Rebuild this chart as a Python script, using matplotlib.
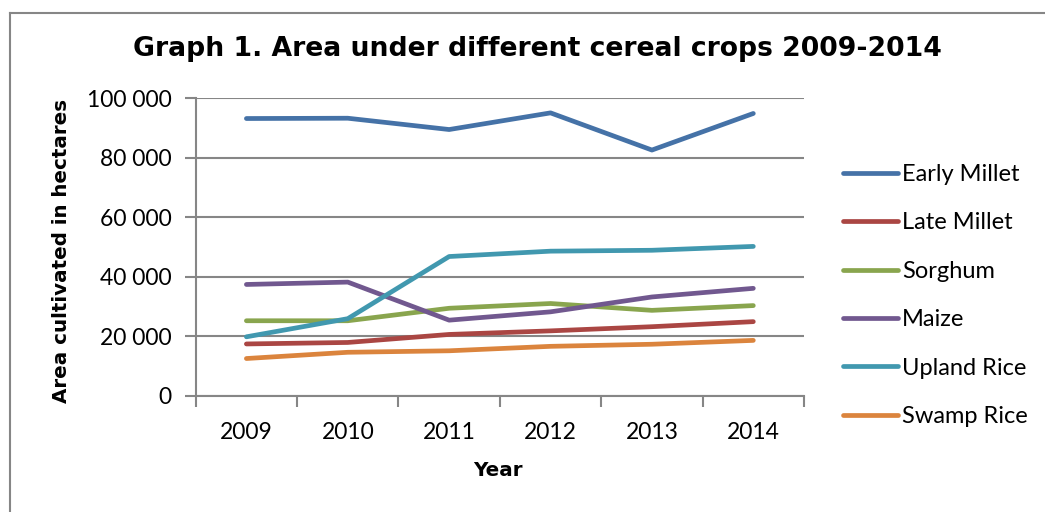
import numpy as np
import matplotlib
matplotlib.use('Agg')
import matplotlib.pyplot as plt
from matplotlib.lines import Line2D
from matplotlib.ticker import FuncFormatter

years = ['2009', '2010', '2011', '2012', '2013', '2014']
early_millet = [93200, 93300, 89500, 95100, 82600, 94900]
late_millet = [17400, 17900, 20600, 21800, 23200, 24900]
sorghum = [25200, 25200, 29400, 31000, 28700, 30300]
maize = [37400, 38200, 25400, 28200, 33200, 36100]
upland_rice = [19800, 25900, 46800, 48600, 48900, 50200]
swamp_rice = [12500, 14600, 15100, 16600, 17300, 18600]

series = [
    ('Early Millet', early_millet, '#4572A7'),
    ('Late Millet', late_millet, '#AA4643'),
    ('Sorghum', sorghum, '#89A54E'),
    ('Maize', maize, '#71588F'),
    ('Upland Rice', upland_rice, '#4198AF'),
    ('Swamp Rice', swamp_rice, '#DB843D'),
]

W, H = 1045, 512
fig = plt.figure(figsize=(W / 100, H / 100), dpi=100)
ax = fig.add_axes([195.7 / W, 1 - 395.7 / H, (804 - 195.7) / W, (395.7 - 98.3) / H])

grey = '#868686'
lab_font = 'Lato'

x = np.arange(len(years))
for name, vals, col in series:
    ax.plot(x, vals, color=col, lw=3.4, label=name, solid_capstyle='round')

ax.set_xlim(-0.5, len(years) - 0.5)
ax.set_ylim(0, 100000)
ax.set_yticks(np.arange(0, 100001, 20000))
ax.yaxis.set_major_formatter(FuncFormatter(lambda v, p: f'{int(v):,}'.replace(',', ' ')))
ax.grid(axis='y', color=grey, lw=1.5)
ax.set_axisbelow(True)

# category ticks at bin edges, labels centred
ax.set_xticks(np.arange(-0.5, len(years)), labels=[''] * (len(years) + 1))
ax.set_xticks(x, labels=years, minor=True)
ax.tick_params(axis='x', which='major', length=8, width=1.5, color=grey, direction='out')
ax.tick_params(axis='x', which='minor', length=0, pad=19, labelsize=16.5)
ax.tick_params(axis='y', length=8, width=1.5, color=grey, pad=9.5, labelsize=16.5)
for lbl in ax.get_xticklabels(minor=True) + ax.get_yticklabels():
    lbl.set_fontfamily(lab_font)

for s in ['top', 'right']:
    ax.spines[s].set_visible(False)
for s in ['left', 'bottom']:
    ax.spines[s].set_color(grey)
    ax.spines[s].set_linewidth(1.5)

fig.text(537 / W, 1 - 49 / H, 'Graph 1. Area under different cereal crops 2009-2014',
         ha='center', va='center', fontsize=19.2, fontweight='bold', family='DejaVu Sans')
fig.text(62 / W, 1 - 251 / H, 'Area cultivated in hectares', rotation=90,
         ha='center', va='center', fontsize=14.3, fontweight='bold', family='DejaVu Sans')
fig.text(498 / W, 1 - 470 / H, 'Year', ha='center', va='center',
         fontsize=14.3, fontweight='bold', family='DejaVu Sans')

leg = fig.legend(loc='upper left', bbox_to_anchor=(843 / W, 1 - 164 / H), frameon=False,
                 prop={'family': lab_font, 'size': 17}, handlelength=2.33,
                 handletextpad=0.17, labelspacing=1.16, borderpad=0, borderaxespad=0)

# outer chart frame
fig.add_artist(Line2D([10 / W, 1], [1 - 13 / H, 1 - 13 / H], color=grey, lw=1.5))
fig.add_artist(Line2D([10 / W, 10 / W], [0, 1 - 13 / H], color=grey, lw=1.5))

fig.savefig('out.png', dpi=100)
